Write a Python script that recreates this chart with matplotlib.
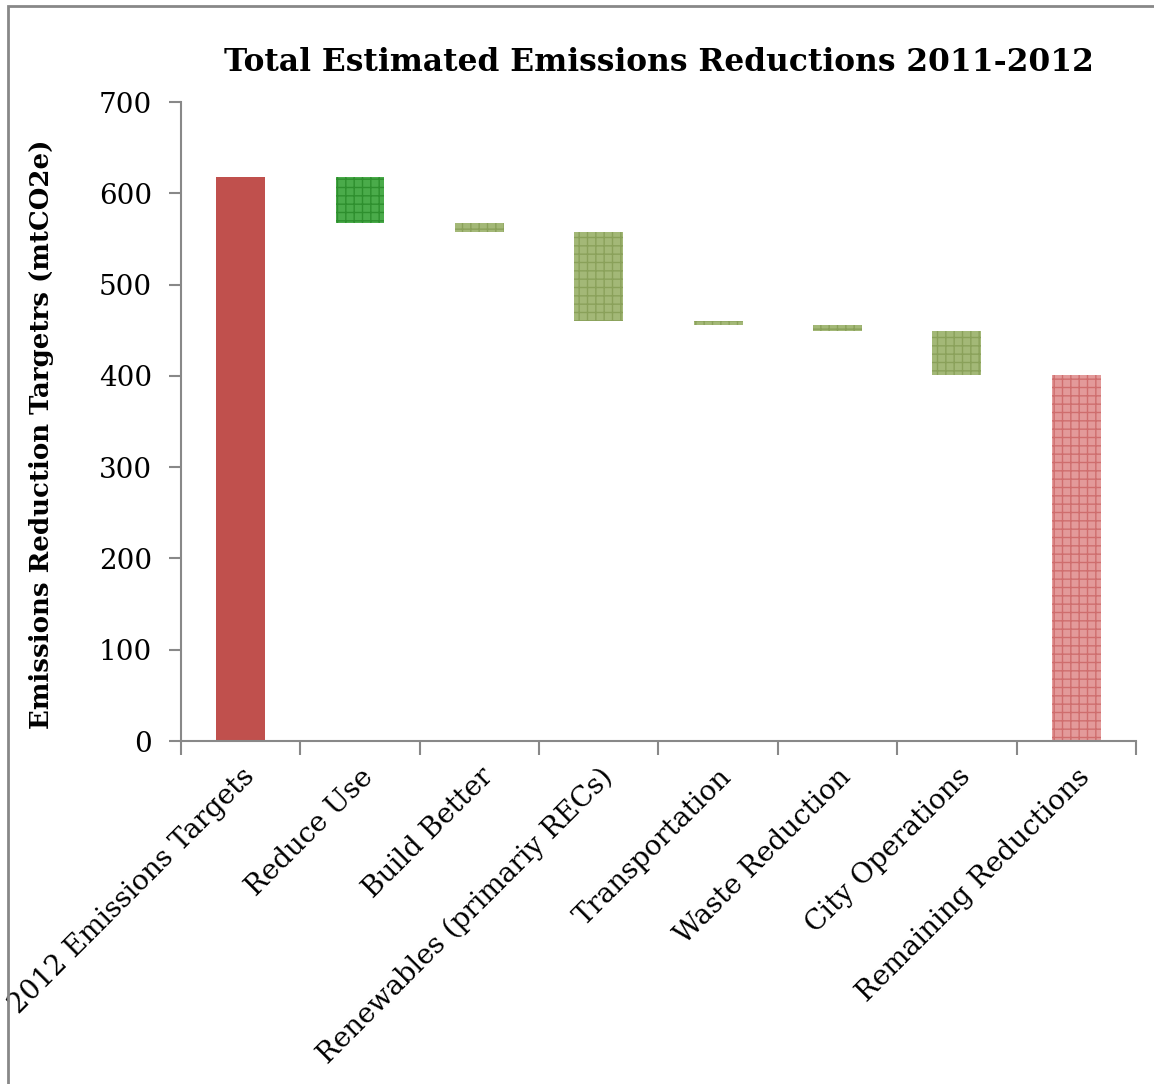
import matplotlib.pyplot as plt
from matplotlib.patches import Rectangle
import numpy as np

plt.rcParams['font.family'] = 'DejaVu Serif'
plt.rcParams['hatch.linewidth'] = 1.0

categories = ['2012 Emissions Targets', 'Reduce Use', 'Build Better',
              'Renewables (primariy RECs)', 'Transportation', 'Waste Reduction',
              'City Operations', 'Remaining Reductions']
target = 618
reductions = [50, 10, 98, 4, 7, 48]

# running totals for the floating bars
levels = target - np.cumsum(reductions)
remaining = levels[-1]
bottoms = [0] + list(levels) + [0]
heights = [target] + reductions + [remaining]

faces = ['#c0504d', '#4aab4a'] + ['#a3b877'] * 5 + ['#e39a9a']
hatch_cols = ['#c0504d', '#2e8f2e'] + ['#8aa15a'] * 5 + ['#cf6e6e']
hatches = [None, '++', '++', '++', '++', '++', '++', '++']

fig = plt.figure(figsize=(11.54, 10.84), dpi=100)
ax = fig.add_axes([0.1568, 0.3164, 0.8276, 0.5895])

x = np.arange(len(categories))
for i in range(len(categories)):
    ax.bar(x[i], heights[i], bottom=bottoms[i], width=0.41,
           color=faces[i], edgecolor=hatch_cols[i], linewidth=0,
           hatch=hatches[i])

ax.set_xlim(-0.5, len(categories) - 0.5)
ax.set_ylim(0, 700)
ax.set_yticks(range(0, 701, 100))
ax.tick_params(axis='y', labelsize=20, length=9, width=1.5, color='#888888', pad=12)

ax.set_xticks(x)
ax.set_xticks(np.arange(-0.5, len(categories)), minor=True)
ax.tick_params(axis='x', which='major', length=0, pad=16)
ax.tick_params(axis='x', which='minor', length=10, width=1.5, color='#888888')
ax.set_xticklabels(categories, rotation=45, ha='right', rotation_mode='anchor',
                   fontsize=20)

for side in ['top', 'right']:
    ax.spines[side].set_visible(False)
for side in ['left', 'bottom']:
    ax.spines[side].set_color('#888888')
    ax.spines[side].set_linewidth(1.5)

ax.set_ylabel('Emissions Reduction Targetrs (mtCO2e)', fontsize=18.7,
              fontweight='bold')
ax.yaxis.set_label_coords(-0.133, 0.48)
ax.set_title('Total Estimated Emissions Reductions 2011-2012', fontsize=22.5,
             fontweight='bold', pad=22)

fig.patches.append(Rectangle((0.0065, -0.1), 1.1, 1.0945, transform=fig.transFigure,
                             fill=False, edgecolor='#888888', linewidth=2))

fig.savefig('out.png')
